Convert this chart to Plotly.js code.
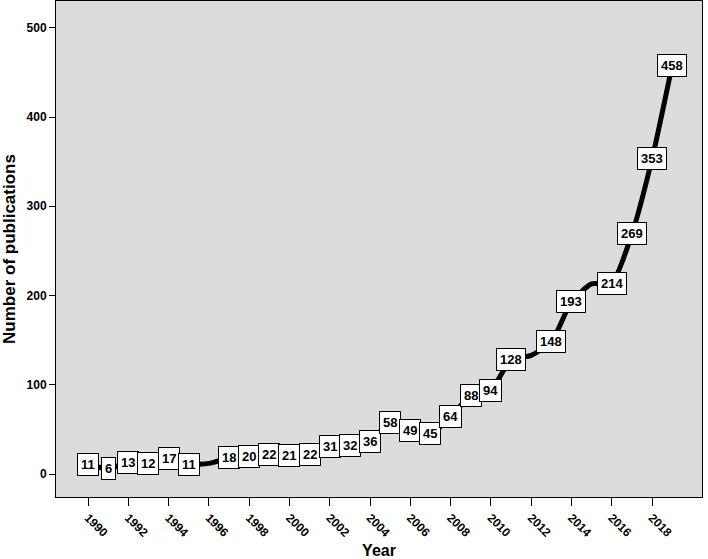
<!DOCTYPE html>
<html><head><meta charset="utf-8">
<script src="https://cdn.plot.ly/plotly-3.0.1.min.js"></script>
<style>body{margin:0;padding:0;background:#fff}#chart{width:708px;height:559px}</style>
</head><body><div id="chart"></div>
<script>
const years = [1990,1991,1992,1993,1994,1995,1996,1997,1998,1999,2000,2001,2002,2003,2004,2005,2006,2007,2008,2009,2010,2011,2012,2013,2014,2015,2016,2017,2018,2019];
const counts = [11,6,13,12,17,11,12,18,20,22,21,22,31,32,36,58,49,45,64,88,94,128,133,148,193,213,214,269,353,458];
const shownLabels = [true,true,true,true,true,true,false,true,true,true,true,true,true,true,true,true,true,true,true,true,true,true,false,true,true,false,true,true,true,true];
const xTicks = [1990,1992,1994,1996,1998,2000,2002,2004,2006,2008,2010,2012,2014,2016,2018];
const yTicks = [0,100,200,300,400,500];

const font = 'Liberation Sans, Arial, sans-serif';
const annotations = years.map((y,i)=> shownLabels[i] ? {
  x: y, y: counts[i], xref:'x', yref:'y', text:'<b>'+counts[i]+'</b>', showarrow:false,
  bgcolor:'#ffffff', bordercolor:'#000000', borderwidth:1, borderpad:3,
  font:{family:font,size:13,color:'#000'}
} : null).filter(a=>a);

const trace = {
  x: years, y: counts, type:'scatter', mode:'lines',
  line:{color:'#000000', width:5, shape:'spline', smoothing:0.6},
  hoverinfo:'skip'
};
const layout = {
  width:708, height:559,
  margin:{l:56, r:6, t:1, b:62},
  paper_bgcolor:'#ffffff', plot_bgcolor:'#dcdcdc',
  showlegend:false,
  xaxis:{
    range:[1988.41,2020.48], tickvals:xTicks, ticktext:xTicks.map(String),
    tickangle:45, ticks:'outside', ticklen:8, tickwidth:1, tickcolor:'#000',
    showgrid:false, zeroline:false, showline:true, linecolor:'#000', linewidth:1, mirror:true,
    tickfont:{family:font, size:12, color:'#000', weight:'bold'},
    title:{text:'<b>Year</b>', font:{family:font, size:16, color:'#000'}, standoff:6}
  },
  yaxis:{
    range:[-25.7,530], tickvals:yTicks, ticktext:yTicks.map(String),
    ticks:'outside', ticklen:6, tickwidth:1, tickcolor:'#000',
    showgrid:false, zeroline:false, showline:true, linecolor:'#000', linewidth:1, mirror:true,
    tickfont:{family:font, size:12, color:'#000', weight:'bold'},
    title:{text:'<b>Number of publications</b>', font:{family:font, size:17, color:'#000'}, standoff:10}
  },
  annotations: annotations
};
Plotly.newPlot('chart',[trace],layout,{staticPlot:true});
</script></body></html>
